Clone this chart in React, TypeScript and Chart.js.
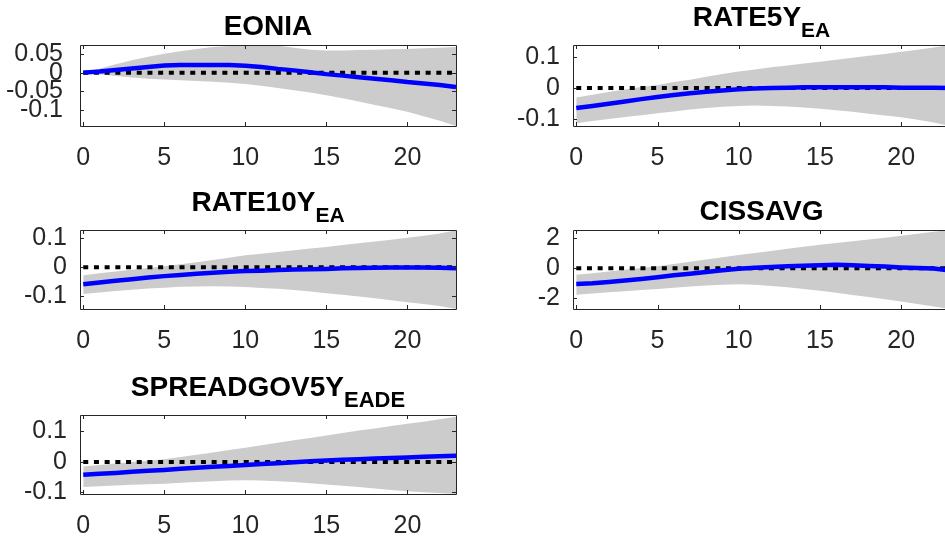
import React, { useEffect, useRef } from 'react';
import { Chart, registerables } from 'chart.js';

Chart.register(...registerables);

// ---------- data ----------
const steps = [0, 1, 2, 3, 4, 5, 6, 7, 8, 9, 10, 11, 12, 13, 14, 15, 16, 17, 18, 19, 20, 21, 22, 23];
const xTickValues = [0, 5, 10, 15, 20];

const eoniaMedian = [0, 0.003, 0.007, 0.011, 0.015, 0.019, 0.02, 0.02, 0.02, 0.02, 0.018, 0.015, 0.01, 0.006, 0.001, -0.004, -0.008, -0.012, -0.016, -0.02, -0.025, -0.029, -0.033, -0.038];
const eoniaUpper = [0, 0.01, 0.022, 0.033, 0.042, 0.05, 0.057, 0.063, 0.068, 0.071, 0.073, 0.074, 0.072, 0.066, 0.061, 0.059, 0.059, 0.06, 0.061, 0.062, 0.063, 0.065, 0.066, 0.068];
const eoniaLower = [0, -0.004, -0.009, -0.013, -0.016, -0.018, -0.02, -0.022, -0.024, -0.027, -0.03, -0.035, -0.041, -0.047, -0.053, -0.06, -0.068, -0.077, -0.086, -0.095, -0.104, -0.116, -0.128, -0.142];
const eoniaYTicks = [-0.1, -0.05, 0, 0.05];
const eoniaYLabels = ['-0.1', '-0.05', '0', '0.05'];

const rate5Median = [-0.065, -0.058, -0.051, -0.044, -0.036, -0.029, -0.023, -0.017, -0.012, -0.008, -0.004, -0.002, 0, 0.001, 0.002, 0.002, 0.002, 0.002, 0.002, 0.002, 0.001, 0.001, 0.001, 0];
const rate5Upper = [-0.031, -0.022, -0.013, -0.005, 0.003, 0.01, 0.019, 0.027, 0.036, 0.045, 0.053, 0.06, 0.067, 0.073, 0.079, 0.085, 0.091, 0.098, 0.104, 0.11, 0.117, 0.124, 0.131, 0.139];
const rate5Lower = [-0.114, -0.107, -0.1, -0.094, -0.088, -0.082, -0.076, -0.07, -0.065, -0.061, -0.058, -0.057, -0.058, -0.06, -0.063, -0.067, -0.072, -0.077, -0.083, -0.089, -0.095, -0.103, -0.112, -0.123];
const rate5YTicks = [-0.1, 0, 0.1];
const rate5YLabels = ['-0.1', '0', '0.1'];

const rate10Median = [-0.059, -0.053, -0.047, -0.042, -0.036, -0.031, -0.027, -0.023, -0.019, -0.016, -0.013, -0.012, -0.01, -0.008, -0.007, -0.006, -0.004, -0.003, -0.002, -0.001, -0.001, -0.001, -0.002, -0.004];
const rate10Upper = [-0.028, -0.021, -0.015, -0.009, -0.003, 0.003, 0.01, 0.017, 0.025, 0.033, 0.041, 0.047, 0.053, 0.059, 0.065, 0.07, 0.077, 0.083, 0.089, 0.095, 0.102, 0.109, 0.117, 0.128];
const rate10Lower = [-0.093, -0.088, -0.083, -0.078, -0.074, -0.071, -0.068, -0.067, -0.066, -0.067, -0.069, -0.072, -0.075, -0.079, -0.084, -0.09, -0.096, -0.102, -0.108, -0.115, -0.122, -0.128, -0.135, -0.145];
const rate10YTicks = [-0.1, 0, 0.1];
const rate10YLabels = ['-0.1', '0', '0.1'];

const cissMedian = [-1.04, -1.0, -0.92, -0.82, -0.71, -0.59, -0.47, -0.36, -0.25, -0.13, -0.03, 0.04, 0.09, 0.14, 0.17, 0.2, 0.24, 0.2, 0.16, 0.12, 0.06, 0.02, -0.02, -0.14];
const cissUpper = [-0.43, -0.33, -0.22, -0.1, 0.02, 0.14, 0.28, 0.43, 0.58, 0.73, 0.88, 1.02, 1.16, 1.3, 1.43, 1.56, 1.68, 1.8, 1.92, 2.04, 2.17, 2.3, 2.43, 2.55];
const cissLower = [-1.76, -1.68, -1.6, -1.52, -1.45, -1.38, -1.3, -1.22, -1.15, -1.09, -1.06, -1.1, -1.18, -1.27, -1.38, -1.49, -1.63, -1.77, -1.91, -2.06, -2.21, -2.38, -2.55, -2.71];
const cissYTicks = [-2, 0, 2];
const cissYLabels = ['-2', '0', '2'];

const spreadMedian = [-0.042, -0.039, -0.036, -0.032, -0.029, -0.026, -0.022, -0.019, -0.016, -0.013, -0.01, -0.007, -0.004, -0.001, 0.002, 0.005, 0.007, 0.009, 0.011, 0.013, 0.015, 0.017, 0.019, 0.02];
const spreadUpper = [-0.015, -0.01, -0.005, 0, 0.004, 0.009, 0.016, 0.024, 0.031, 0.039, 0.047, 0.055, 0.063, 0.071, 0.079, 0.087, 0.095, 0.103, 0.11, 0.118, 0.125, 0.132, 0.14, 0.148];
const spreadLower = [-0.082, -0.08, -0.077, -0.075, -0.073, -0.071, -0.068, -0.066, -0.063, -0.061, -0.06, -0.061, -0.063, -0.066, -0.07, -0.074, -0.078, -0.082, -0.087, -0.092, -0.096, -0.099, -0.102, -0.105];
const spreadYTicks = [-0.1, 0, 0.1];
const spreadYLabels = ['-0.1', '0', '0.1'];

// ---------- styles ----------
const FONT = '"Liberation Sans", Arial, Helvetica, sans-serif';
const AXIS_COLOR = '#262626';
const BAND_COLOR = '#cccccc';
const LINE_COLOR = '#0000ff';

type PanelProps = {
  title: string;
  sub?: string;
  subSize?: number;
  median: number[];
  upper: number[];
  lower: number[];
  yMin: number;
  yMax: number;
  yTicks: number[];
  yLabels: string[];
  left: number;
  top: number;
  width: number;
  height: number;
  padTop: number;
  padRight: number;
  yAxisWidth: number;
  xAxisHeight: number;
  yPad: number;
};

function Panel(p: PanelProps) {
  const ref = useRef<HTMLCanvasElement | null>(null);

  useEffect(() => {
    const canvas = ref.current;
    if (!canvas) return;
    const pts = (arr: number[]) => steps.map((t, i) => ({ x: t, y: arr[i] }));

    const boxPlugin = {
      id: 'matlabBox',
      afterDatasetsDraw(chart: any) {
        const { ctx, chartArea } = chart;
        const { left, right, top, bottom } = chartArea;
        const xs = chart.scales.x;
        const ys = chart.scales.y;
        const tl = 4;
        ctx.save();
        ctx.strokeStyle = AXIS_COLOR;
        ctx.lineWidth = 1;
        ctx.beginPath();
        ctx.rect(Math.round(left) + 0.5, Math.round(top) + 0.5, Math.round(right - left), Math.round(bottom - top));
        ctx.stroke();
        ctx.beginPath();
        xTickValues.forEach((v) => {
          const x = Math.round(xs.getPixelForValue(v)) + 0.5;
          ctx.moveTo(x, bottom);
          ctx.lineTo(x, bottom - tl);
          ctx.moveTo(x, top);
          ctx.lineTo(x, top + tl);
        });
        p.yTicks.forEach((v) => {
          const y = Math.round(ys.getPixelForValue(v)) + 0.5;
          ctx.moveTo(left, y);
          ctx.lineTo(left + tl, y);
          ctx.moveTo(right, y);
          ctx.lineTo(right - tl, y);
        });
        ctx.stroke();
        ctx.restore();
      },
      afterDraw(chart: any) {
        const { ctx, chartArea } = chart;
        const cx = (chartArea.left + chartArea.right) / 2;
        ctx.save();
        ctx.fillStyle = '#000000';
        ctx.textBaseline = 'alphabetic';
        ctx.textAlign = 'left';
        const mainFont = `bold 28px ${FONT}`;
        const subFont = `bold ${p.subSize || 21}px ${FONT}`;
        ctx.font = mainFont;
        const wm = ctx.measureText(p.title).width;
        let ws = 0;
        if (p.sub) {
          ctx.font = subFont;
          ws = ctx.measureText(p.sub).width;
        }
        const x0 = cx - (wm + ws) / 2;
        ctx.font = mainFont;
        if (p.sub) {
          ctx.fillText(p.title, x0, chartArea.top - 19);
          ctx.font = subFont;
          ctx.fillText(p.sub, x0 + wm, chartArea.top - 8);
        } else {
          ctx.fillText(p.title, x0, chartArea.top - 10);
        }
        ctx.restore();
      },
    };

    const chart = new Chart(canvas, {
      type: 'line',
      data: {
        datasets: [
          {
            label: 'median',
            data: pts(p.median),
            borderColor: LINE_COLOR,
            borderWidth: 4.5,
            pointRadius: 0,
            fill: false,
            tension: 0,
          },
          {
            label: 'zero',
            data: steps.map((t) => ({ x: t, y: 0 })),
            borderColor: '#000000',
            borderWidth: 4,
            borderDash: [5, 5.7],
            borderCapStyle: 'butt',
            pointRadius: 0,
            fill: false,
          },
          {
            label: 'upper',
            data: pts(p.upper),
            borderWidth: 0,
            borderColor: 'rgba(0,0,0,0)',
            backgroundColor: BAND_COLOR,
            pointRadius: 0,
            fill: '+1',
          },
          {
            label: 'lower',
            data: pts(p.lower),
            borderWidth: 0,
            borderColor: 'rgba(0,0,0,0)',
            backgroundColor: BAND_COLOR,
            pointRadius: 0,
            fill: false,
          },
        ],
      },
      options: {
        animation: false,
        responsive: false,
        devicePixelRatio: 1,
        layout: { padding: { top: p.padTop, right: p.padRight, left: 0, bottom: 0 } },
        plugins: {
          legend: { display: false },
          tooltip: { enabled: false },
          title: { display: false },
        },
        scales: {
          x: {
            type: 'linear',
            min: -0.2,
            max: 23,
            grid: { display: false, drawTicks: false },
            border: { display: false },
            afterBuildTicks: (s: any) => {
              s.ticks = xTickValues.map((v) => ({ value: v }));
            },
            afterFit: (s: any) => {
              s.height = p.xAxisHeight;
            },
            ticks: {
              autoSkip: false,
              maxRotation: 0,
              padding: 17,
              color: AXIS_COLOR,
              font: { family: FONT, size: 25 },
              callback: (v: any) => String(v),
            },
          },
          y: {
            type: 'linear',
            min: p.yMin,
            max: p.yMax,
            grid: { display: false, drawTicks: false },
            border: { display: false },
            afterBuildTicks: (s: any) => {
              s.ticks = p.yTicks.map((v) => ({ value: v }));
            },
            afterFit: (s: any) => {
              s.width = p.yAxisWidth;
            },
            ticks: {
              autoSkip: false,
              padding: p.yPad,
              color: AXIS_COLOR,
              font: { family: FONT, size: 25 },
              callback: (v: any) => {
                const idx = p.yTicks.indexOf(v);
                return idx >= 0 ? p.yLabels[idx] : '';
              },
            },
          },
        },
      } as any,
      plugins: [boxPlugin],
    });
    return () => chart.destroy();
  }, []);

  return (
    <canvas
      ref={ref}
      width={p.width}
      height={p.height}
      style={{ position: 'absolute', left: p.left, top: p.top, width: p.width, height: p.height }}
    />
  );
}

export default function App() {
  return (
    <div
      style={{
        position: 'fixed',
        left: 0,
        top: 0,
        width: 945,
        height: 543,
        overflow: 'hidden',
        background: '#ffffff',
      }}
    >
      <Panel
        title="EONIA"
        median={eoniaMedian}
        upper={eoniaUpper}
        lower={eoniaLower}
        yMin={-0.142}
        yMax={0.0735}
        yTicks={eoniaYTicks}
        yLabels={eoniaYLabels}
        left={0}
        top={0}
        width={470}
        height={180}
        padTop={45}
        padRight={14}
        yAxisWidth={80}
        xAxisHeight={54}
        yPad={17}
      />
      <Panel
        title="RATE5Y"
        sub="EA"
        median={rate5Median}
        upper={rate5Upper}
        lower={rate5Lower}
        yMin={-0.123}
        yMax={0.139}
        yTicks={rate5YTicks}
        yLabels={rate5YLabels}
        left={470}
        top={0}
        width={490}
        height={180}
        padTop={45}
        padRight={10}
        yAxisWidth={103}
        xAxisHeight={54}
        yPad={13}
      />
      <Panel
        title="RATE10Y"
        sub="EA"
        median={rate10Median}
        upper={rate10Upper}
        lower={rate10Lower}
        yMin={-0.145}
        yMax={0.129}
        yTicks={rate10YTicks}
        yLabels={rate10YLabels}
        left={0}
        top={180}
        width={470}
        height={180}
        padTop={50}
        padRight={14}
        yAxisWidth={80}
        xAxisHeight={51}
        yPad={13}
      />
      <Panel
        title="CISSAVG"
        median={cissMedian}
        upper={cissUpper}
        lower={cissLower}
        yMin={-2.71}
        yMax={2.55}
        yTicks={cissYTicks}
        yLabels={cissYLabels}
        left={470}
        top={180}
        width={490}
        height={180}
        padTop={50}
        padRight={10}
        yAxisWidth={103}
        xAxisHeight={51}
        yPad={13}
      />
      <Panel
        title="SPREADGOV5Y"
        sub="EADE"
        subSize={22}
        median={spreadMedian}
        upper={spreadUpper}
        lower={spreadLower}
        yMin={-0.105}
        yMax={0.154}
        yTicks={spreadYTicks}
        yLabels={spreadYLabels}
        left={0}
        top={360}
        width={470}
        height={183}
        padTop={55}
        padRight={14}
        yAxisWidth={80}
        xAxisHeight={49}
        yPad={13}
      />
    </div>
  );
}
